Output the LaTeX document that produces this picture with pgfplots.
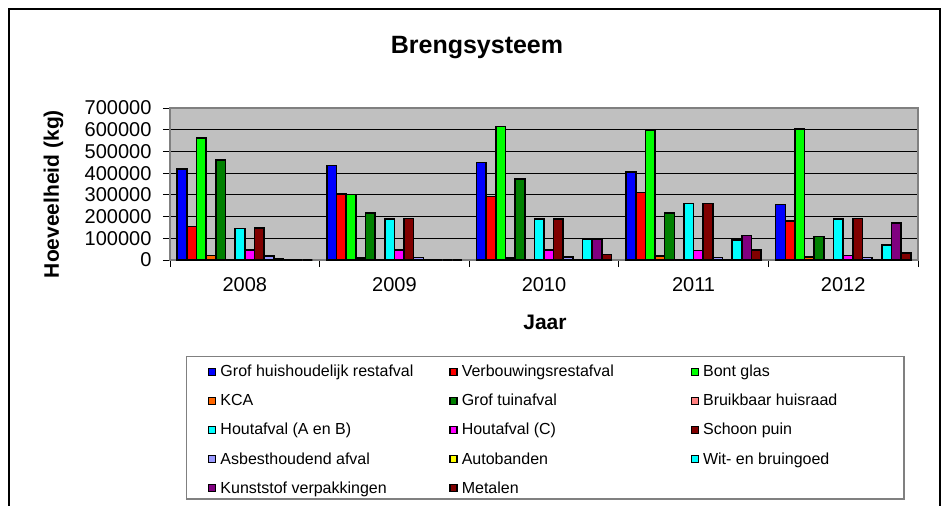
\documentclass[border=0pt]{standalone}
\usepackage{fontspec}
\setmainfont{Liberation Sans}
\usepackage{pgfplots}
\pgfplotsset{compat=1.18}
\usepackage{pgfplotstable}

\definecolor{cgrof}{HTML}{0000FF}
\definecolor{cverb}{HTML}{FF0000}
\definecolor{cbont}{HTML}{00FF00}
\definecolor{ckca}{HTML}{FF6600}
\definecolor{ctuin}{HTML}{008000}
\definecolor{chuis}{HTML}{FF8080}
\definecolor{choutab}{HTML}{00FFFF}
\definecolor{choutc}{HTML}{FF00FF}
\definecolor{cpuin}{HTML}{800000}
\definecolor{casbest}{HTML}{9999FF}
\definecolor{cauto}{HTML}{FFFF00}
\definecolor{cwit}{HTML}{00FFFF}
\definecolor{ckunst}{HTML}{800080}
\definecolor{cmetaal}{HTML}{800000}
\definecolor{plotgray}{HTML}{C0C0C0}
\definecolor{framegray}{HTML}{808080}

% kg per jaar (0 = 2008 ... 4 = 2012)
\pgfplotstableread{
x grof   verb   bont   kca   tuin   huis houtab houtc puin   asbest auto wit   kunst  metaal
0 418000 154000 563000 20000 460000 0    145000 46000 147000 18000  4000 0     0      0
1 435000 305000 301000 10000 217000 0    188000 46000 191000 12000  3000 0     0      0
2 449000 292000 615000  9000 374000 0    188000 46000 189000 15000  3000 96000 98000  26000
3 406000 310000 598000 18000 217000 0    260000 44000 260000 12000  3000 92000 113000 46000
4 256000 179000 602000 15000 108000 0    188000 20000 191000 12000  3000 70000 171000 32000
}\brengdata

\newcommand{\entry}[1]{\makebox[229pt][l]{#1}}
\tikzset{brengbar/.style={fill=#1, draw=black, line width=1.6pt}}

\begin{document}
\begin{tikzpicture}[x=1pt,y=1pt]
\useasboundingbox (0,0) rectangle (946,-506);
\draw[black, line width=1.5pt] (9,-9) rectangle (940,-600);
\begin{axis}[
    at={(170pt,-260pt)}, anchor=south west,
    scale only axis, width=748pt, height=152pt,
    ybar=0pt, bar width=0.0645,
    xmin=-0.5, xmax=4.5, ymin=0, ymax=700000,
    xtick={0,1,2,3,4},
    xticklabels={2008,2009,2010,2011,2012},
    minor xtick={-0.5,0.5,1.5,2.5,3.5,4.5},
    major x tick style={draw=none},
    ytick={0,100000,200000,300000,400000,500000,600000,700000},
    scaled y ticks=false,
    yticklabel style={/pgf/number format/fixed, /pgf/number format/1000 sep={}, xshift=-8pt},
    xticklabel style={yshift=-7pt},
    /pgf/number format/assume math mode=true,
    tick label style={font=\fontsize{20}{24}\selectfont},
    tick align=outside, tick pos=left,
    major tick length=7pt, minor tick length=7pt,
    tick style={black, line width=0.8pt},
    ymajorgrids=true,
    major grid style={black, line width=0.8pt},
    axis background/.style={fill=plotgray},
    axis line style={draw=framegray, line width=1.5pt},
    title={Brengsysteem},
    title style={font=\fontsize{25}{30}\selectfont\bfseries,
        at={(axis description cs:0.4104,1.322)}, anchor=base},
    xlabel={Jaar},
    xlabel style={font=\fontsize{21}{25}\selectfont\bfseries,
        at={(axis description cs:0.5013,-0.4605)}, anchor=base},
    ylabel={Hoeveelheid (kg)},
    ylabel style={font=\fontsize{21}{25}\selectfont\bfseries,
        at={(axis description cs:-0.1484,0.434)}, anchor=base, rotate=0},
    legend image code/.code={\draw[#1,draw=black,line width=1.3pt] (0pt,-3.5pt) rectangle (7pt,3.5pt);},
    legend columns=3,
    legend style={draw=none, fill=none, inner sep=0pt,
        at={(axis description cs:0.0508,-0.6908)}, anchor=north west,
        font=\fontsize{16}{19}\selectfont,
        nodes={inner sep=0pt},
        row sep=16pt,
        /tikz/every odd column/.append style={column sep=4pt}},
]
\addplot[brengbar=cgrof]    table[x=x,y=grof]{\brengdata};   \addlegendentry{\entry{Grof huishoudelijk restafval}}
\addplot[brengbar=cverb]    table[x=x,y=verb]{\brengdata};   \addlegendentry{\entry{Verbouwingsrestafval}}
\addplot[brengbar=cbont]    table[x=x,y=bont]{\brengdata};   \addlegendentry{\entry{Bont glas}}
\addplot[brengbar=ckca]     table[x=x,y=kca]{\brengdata};    \addlegendentry{\entry{KCA}}
\addplot[brengbar=ctuin]    table[x=x,y=tuin]{\brengdata};   \addlegendentry{\entry{Grof tuinafval}}
\addplot[brengbar=chuis]    table[x=x,y=huis]{\brengdata};   \addlegendentry{\entry{Bruikbaar huisraad}}
\addplot[brengbar=choutab]  table[x=x,y=houtab]{\brengdata}; \addlegendentry{\entry{Houtafval (A en B)}}
\addplot[brengbar=choutc]   table[x=x,y=houtc]{\brengdata};  \addlegendentry{\entry{Houtafval (C)}}
\addplot[brengbar=cpuin]    table[x=x,y=puin]{\brengdata};   \addlegendentry{\entry{Schoon puin}}
\addplot[brengbar=casbest]  table[x=x,y=asbest]{\brengdata}; \addlegendentry{\entry{Asbesthoudend afval}}
\addplot[brengbar=cauto]    table[x=x,y=auto]{\brengdata};   \addlegendentry{\entry{Autobanden}}
\addplot[brengbar=cwit]     table[x=x,y=wit]{\brengdata};    \addlegendentry{\entry{Wit- en bruingoed}}
\addplot[brengbar=ckunst]   table[x=x,y=kunst]{\brengdata};  \addlegendentry{\entry{Kunststof verpakkingen}}
\addplot[brengbar=cmetaal]  table[x=x,y=metaal]{\brengdata}; \addlegendentry{\entry{Metalen}}
\end{axis}
\draw[framegray, line width=1.5pt] (186.5,-356.5) rectangle (904,-499);
\end{tikzpicture}
\end{document}
